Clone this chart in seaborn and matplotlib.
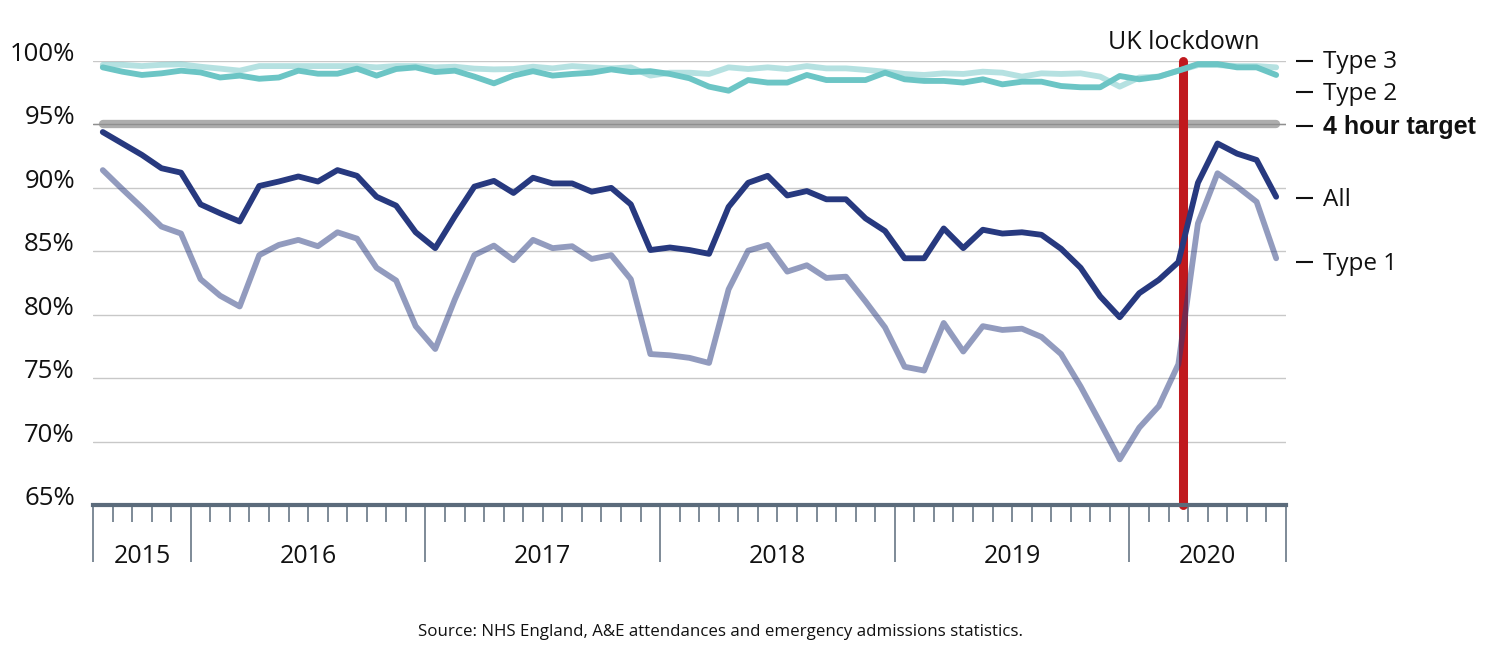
import matplotlib
matplotlib.use("Agg")
import matplotlib.pyplot as plt
import pandas as pd
import seaborn as sns

# Aug 2015 .. Aug 2020, monthly
months = pd.period_range("2015-08", "2020-08", freq="M").strftime("%b %Y").tolist()

all_types = [94.4, 93.5, 92.6, 91.55, 91.2, 88.7, 88.0, 87.35, 90.15, 90.5, 90.9, 90.5, 91.4, 90.95, 89.3, 88.6, 86.5, 85.25, 87.75, 90.1,
             90.55, 89.6, 90.8, 90.35, 90.35, 89.7, 90.0, 88.7, 85.1, 85.3, 85.1, 84.8, 88.5, 90.4, 90.95, 89.4, 89.75, 89.1, 89.1, 87.6,
             86.6, 84.45, 84.45, 86.8, 85.25, 86.7, 86.4, 86.5, 86.3, 85.2, 83.7, 81.45, 79.8, 81.7, 82.75, 84.15, 90.4, 93.5, 92.7, 92.2, 89.3]
type_1 = [91.4, 89.9, 88.45, 86.95, 86.4, 82.8, 81.5, 80.65, 84.7, 85.5, 85.9, 85.4, 86.5, 86.0, 83.7, 82.7, 79.1, 77.3, 81.2, 84.7,
          85.45, 84.3, 85.9, 85.25, 85.4, 84.4, 84.7, 82.8, 76.9, 76.8, 76.6, 76.2, 82.0, 85.05, 85.5, 83.4, 83.9, 82.9, 83.0, 81.05,
          79.0, 75.9, 75.6, 79.35, 77.1, 79.1, 78.8, 78.9, 78.25, 76.9, 74.35, 71.5, 68.6, 71.1, 72.8, 76.1, 87.2, 91.15, 90.1, 88.9, 84.45]
type_2 = [99.5, 99.16, 98.9, 99.03, 99.24, 99.1, 98.7, 98.85, 98.6, 98.7, 99.24, 99.0, 99.0, 99.4, 98.85, 99.37, 99.5, 99.13, 99.24, 98.77,
          98.24, 98.85, 99.2, 98.85, 98.98, 99.08, 99.34, 99.13, 99.2, 98.98, 98.64, 97.98, 97.66, 98.5, 98.3, 98.3, 98.9, 98.5, 98.5, 98.5,
          99.08, 98.56, 98.43, 98.43, 98.3, 98.56, 98.16, 98.37, 98.37, 98.03, 97.93, 97.93, 98.82, 98.56, 98.77, 99.24, 99.76, 99.76, 99.5, 99.5, 98.9]
type_3 = [99.7, 99.7, 99.6, 99.7, 99.74, 99.55, 99.4, 99.24, 99.6, 99.6, 99.6, 99.6, 99.6, 99.6, 99.5, 99.6, 99.6, 99.5, 99.55, 99.4,
          99.34, 99.37, 99.55, 99.42, 99.6, 99.5, 99.42, 99.5, 98.85, 99.08, 99.08, 98.98, 99.5, 99.37, 99.5, 99.37, 99.6, 99.42, 99.42, 99.3,
          99.16, 98.98, 98.9, 99.03, 98.98, 99.16, 99.08, 98.77, 99.03, 98.98, 99.03, 98.77, 97.98, 98.7, 98.77, 99.24, 99.68, 99.68, 99.6, 99.6, 99.5]

target = 95
lockdown = 55.25  # 23 March 2020, in month index
year_labels = ["2015", "2016", "2017", "2018", "2019", "2020"]
year_starts = [0, 5, 17, 29, 41, 53, 61]  # first month index of each year (+ end)
end_labels = ["Type 3", "Type 2", "4 hour target", "All", "Type 1"]
end_values = [100.13, 97.64, 95.0, 89.3, 84.25]

df = pd.DataFrame({"month": range(len(months)), "All": all_types, "Type 1": type_1,
                   "Type 2": type_2, "Type 3": type_3})

sns.set_theme(style="white")
plt.rcParams["font.family"] = ["Open Sans", "DejaVu Sans"]
plt.rcParams["text.color"] = "#111111"

navy = "#27397f"
teal = "#6cc5c5"
slate = "#5b6b7b"

fig = plt.figure(figsize=(15, 6.54), dpi=100)
ax = fig.add_axes([0.062, 0.2278, 0.7953, 0.6789])

# grid + target band
ax.set_ylim(65, 100)
ax.set_xlim(-0.5, len(months) - 0.5)
ax.set_yticks(range(65, 101, 5))
ax.set_yticklabels([f"{v}%" for v in range(65, 101, 5)], va="baseline")
ax.yaxis.grid(True, color="#c8c8c8", lw=1)
ax.set_axisbelow(True)
ax.plot([0, len(months) - 1], [target, target], color="#adadad", lw=6,
        solid_capstyle="round", zorder=1.5)
ax.axhline(target, color="#8f8f8f", lw=1, zorder=1.6)

# lockdown marker
ax.plot([lockdown, lockdown], [65, 100], color="#c0191e", lw=6.5,
        solid_capstyle="round", zorder=2.5, clip_on=False)
ax.annotate("UK lockdown", xy=(lockdown, 100), xytext=(0, 9), textcoords="offset points",
            ha="center", va="baseline", fontsize=18)

# series
sns.lineplot(data=df, x="month", y="Type 3", color=teal, alpha=0.5, lw=4.2, ax=ax, zorder=3, clip_on=False)
sns.lineplot(data=df, x="month", y="Type 2", color=teal, lw=4.2, ax=ax, zorder=3.1, clip_on=False)
sns.lineplot(data=df, x="month", y="Type 1", color=navy, alpha=0.5, lw=4.2, ax=ax, zorder=3.2)
sns.lineplot(data=df, x="month", y="All", color=navy, lw=4.2, ax=ax, zorder=3.3)
ax.set_xlabel("")
ax.set_ylabel("")

# x axis: month ticks + year dividers
bounds = [b - 0.5 for b in year_starts]
ax.set_xticks(bounds)
ax.set_xticklabels([""] * len(bounds))
ax.set_xticks([m - 0.5 for m in range(len(months) + 1)], minor=True)
ax.tick_params(axis="x", which="major", direction="out", length=41, width=1.1, color=slate, bottom=True)
ax.tick_params(axis="x", which="minor", direction="out", length=12, width=1.1, color=slate, bottom=True)
for lab, a, b in zip(year_labels, bounds[:-1], bounds[1:]):
    ax.annotate(lab, xy=((a + b) / 2, 0), xycoords=ax.get_xaxis_transform(),
                xytext=(0, -37), textcoords="offset points", ha="center", va="center", fontsize=18)

ax.tick_params(axis="y", length=0, pad=13, labelsize=18.5, labelcolor="#111111")
for s in ["top", "right", "left"]:
    ax.spines[s].set_visible(False)
ax.spines["bottom"].set_color(slate)
ax.spines["bottom"].set_linewidth(3)

# right-hand series labels: dashes as ticks, text as annotations
ax2 = ax.twinx()
ax2.set_ylim(ax.get_ylim())
ax2.set_yticks(end_values)
ax2.set_yticklabels([""] * len(end_values))
ax2.tick_params(axis="y", length=12.5, width=1.5, color="#111111")
for s in ["top", "right", "left", "bottom"]:
    ax2.spines[s].set_visible(False)
ax2.spines["right"].set_position(("outward", 7))
ax2.grid(False)
for lab, v in zip(end_labels, end_values):
    if lab == "4 hour target":
        style = dict(fontweight="bold", fontsize=18, family=["Liberation Sans", "DejaVu Sans"])
    else:
        style = dict(fontsize=17.5)
    ax.annotate(lab, xy=(1, v), xycoords=("axes fraction", "data"), xytext=(26.5, 0),
                textcoords="offset points", ha="left", va="center_baseline", **style)

fig.text(0.48, 0.034, "Source: NHS England, A&E attendances and emergency admissions statistics.",
         ha="center", va="center", fontsize=12.2)

fig.savefig("out.png", dpi=100)
